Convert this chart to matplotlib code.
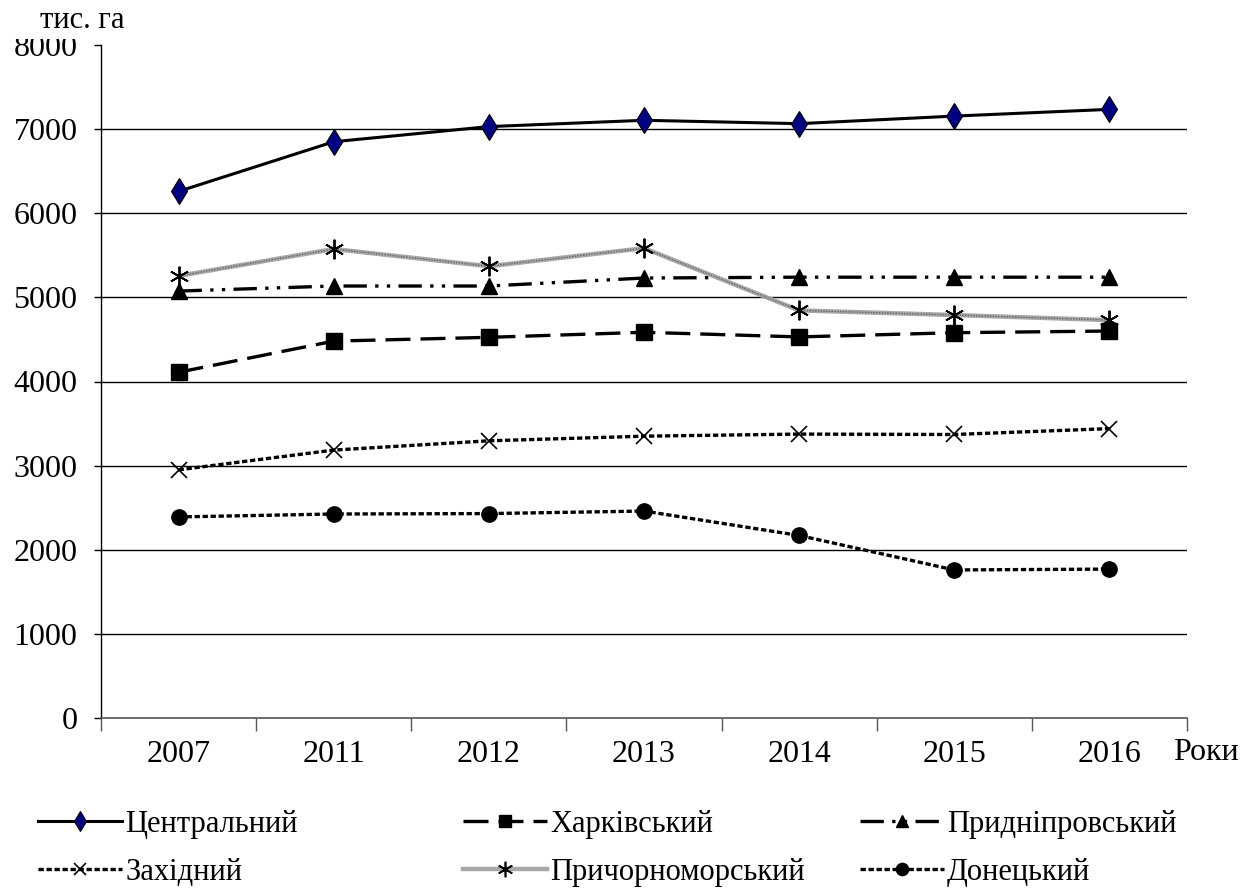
import matplotlib
matplotlib.use("Agg")
import matplotlib.pyplot as plt
from matplotlib.patches import Rectangle

plt.rcParams['font.family'] = ['Liberation Serif', 'DejaVu Serif']

years = ["2007", "2011", "2012", "2013", "2014", "2015", "2016"]

tsentralnyi = [6260, 6850, 7030, 7105, 7065, 7155, 7235]
kharkivskyi = [4110, 4480, 4525, 4585, 4530, 4580, 4600]
prydniprovskyi = [5075, 5135, 5135, 5230, 5240, 5240, 5240]
zakhidnyi = [2950, 3185, 3295, 3350, 3375, 3370, 3440]
prychornomorskyi = [5255, 5575, 5370, 5585, 4845, 4790, 4730]
donetskyi = [2390, 2425, 2430, 2460, 2170, 1760, 1770]

yticks = [0, 1000, 2000, 3000, 4000, 5000, 6000, 7000, 8000]

W, H = 1240, 894
fig = plt.figure(figsize=(W / 100, H / 100), dpi=100)
ax = fig.add_axes([101 / W, 1 - 718 / H, 1086 / W, 673 / H])

x = list(range(len(years)))
FS = 23
LFS = 22

# horizontal gridlines (none at the top edge)
for v in yticks[1:-1]:
    ax.axhline(v, color='#000000', lw=1.0, zorder=1)

styles = [
    ("Центральний", tsentralnyi, dict(color='black', lw=2.2, ls='-', marker='d',
                                       ms=13, mfc='#000080', mec='black', mew=0.8)),
    ("Харківський", kharkivskyi, dict(color='black', lw=2.4, ls=(0, (7.5, 3)), marker='s',
                                       ms=11, mfc='black', mec='black')),
    ("Придніпровський", prydniprovskyi, dict(color='black', lw=2.4,
                                            ls=(0, (7, 2.5, 1, 2.5, 1, 2.5)), marker='^',
                                            ms=11, mfc='black', mec='black')),
    ("Західний", zakhidnyi, dict(color='black', lw=2.4, ls=(0, (1.6, 0.8)), marker='x',
                                 ms=11, mec='black', mew=1.2)),
    ("Причорноморський", prychornomorskyi, dict(color='#a8a8a8', lw=3.2, ls='-',
                                               marker=(6, 2, 0), ms=14, mec='black',
                                               mew=1.2)),
    ("Донецький", donetskyi, dict(color='black', lw=2.4, ls=(0, (1.6, 0.8)), marker='o',
                                  ms=11, mfc='black', mec='black')),
]

handles = {}
for name, vals, kw in styles:
    ln, = ax.plot(x, vals, zorder=3, **kw)
    handles[name] = ln

# darker stippled core of the grey line
ax.plot(x, prychornomorskyi, color='#666666', lw=1.0, ls=(0, (1, 1)), zorder=3.5)
ax.plot(x, prychornomorskyi, ls='none', marker=(6, 2, 0), ms=14, mec='black',
        mew=1.2, zorder=3.6)

ax.set_xlim(-0.5, len(years) - 0.5)
ax.set_ylim(0, 8000)
ax.set_yticks(yticks)
ax.set_yticklabels([str(v) for v in yticks], fontsize=FS)
ax.set_xticks(x)
ax.set_xticklabels(years, fontsize=FS)
ax.set_xticks([i - 0.5 for i in range(len(years) + 1)], minor=True)
ax.tick_params(axis='x', which='major', length=0, pad=16)
ax.tick_params(axis='x', which='minor', length=9, width=1, color='#555555', direction='out')
ax.tick_params(axis='y', length=5, width=1, direction='out', pad=12)

for s in ['top', 'right']:
    ax.spines[s].set_visible(False)
ax.spines['left'].set_color('black')
ax.spines['left'].set_linewidth(1.0)
ax.spines['bottom'].set_color('#555555')
ax.spines['bottom'].set_linewidth(1.2)

# unit caption sits in a white strip over the top of the value scale
fig.patches.append(Rectangle((0, 1 - 39 / H), 130 / W, 39 / H, transform=fig.transFigure,
                             facecolor='white', edgecolor='none', zorder=2))
fig.text(40 / W, 1 - 21 / H, "тис. га", fontsize=FS - 1, ha='left', va='center', zorder=3)
fig.text(1173 / W, 1 - 752 / H, "Роки", fontsize=FS, ha='left', va='center')

# legend in three columns, two rows
columns = [
    (38, ["Центральний", "Західний"]),
    (463, ["Харківський", "Причорноморський"]),
    (860, ["Придніпровський", "Донецький"]),
]
for xpx, names in columns:
    fig.legend([handles[n] for n in names], names, loc='upper left',
               bbox_to_anchor=(xpx / W, 1 - 810 / H), frameon=False,
               fontsize=LFS, handlelength=2.75, handletextpad=0.1,
               labelspacing=0.62, borderaxespad=0, borderpad=0, markerscale=0.8)

fig.savefig("out.png", dpi=100)
